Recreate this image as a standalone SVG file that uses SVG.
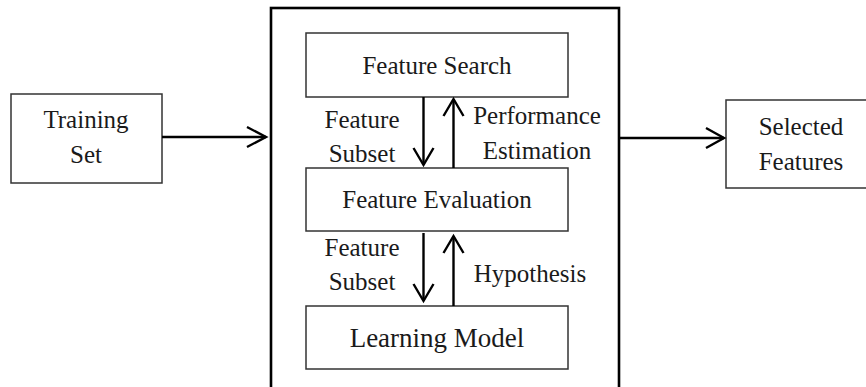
<svg xmlns="http://www.w3.org/2000/svg" width="866" height="387" viewBox="0 0 866 387">
<style>
  text { font-family: "Liberation Serif", "Times New Roman", serif; fill: #1a1a1a; text-anchor: middle; }
  .lbl { font-size: 25px; }
  .big { font-size: 27px; }
  .box { fill: #ffffff; stroke: #333333; stroke-width: 1.5; }
  .frame { fill: #ffffff; stroke: #000000; stroke-width: 2.6; }
  .conn { stroke: #000000; stroke-width: 2.4; fill: none; }
  .head { stroke: #000000; stroke-width: 2.4; fill: none; stroke-linecap: butt; stroke-linejoin: miter; }
</style>
<rect width="866" height="387" fill="#ffffff"/>
<g id="frame">
  <rect class="frame" x="271" y="8" width="348" height="400"/>
</g>
<g id="training-set">
  <rect class="box" x="11" y="94" width="151" height="89"/>
  <text class="lbl" x="86" y="128">Training</text>
  <text class="lbl" x="86" y="163">Set</text>
</g>
<g id="selected-features">
  <rect class="box" x="726" y="100" width="150" height="88"/>
  <text class="lbl" x="801" y="135">Selected</text>
  <text class="lbl" x="801" y="170">Features</text>
</g>
<g id="feature-search">
  <rect class="box" x="306" y="33" width="262" height="64"/>
  <text class="lbl" x="437" y="74">Feature Search</text>
</g>
<g id="feature-evaluation">
  <rect class="box" x="306" y="168" width="262" height="63"/>
  <text class="lbl" x="437" y="208">Feature Evaluation</text>
</g>
<g id="learning-model">
  <rect class="box" x="306" y="306" width="262" height="63"/>
  <text class="big" x="437" y="347">Learning Model</text>
</g>
<g id="connectors">
  <line class="conn" x1="162" y1="137" x2="266" y2="137"/>
  <polyline class="head" points="247,127 266,137 247,147"/>
  <line class="conn" x1="620" y1="138" x2="724" y2="138"/>
  <polyline class="head" points="706,128 724,138 706,148"/>
  <line class="conn" x1="423.5" y1="97" x2="423.5" y2="165"/>
  <polyline class="head" points="413.5,148 423.5,165 433.5,148"/>
  <line class="conn" x1="453.5" y1="168" x2="453.5" y2="99"/>
  <polyline class="head" points="443.5,116 453.5,99 463.5,116"/>
  <line class="conn" x1="423.5" y1="233" x2="423.5" y2="301"/>
  <polyline class="head" points="413.5,284 423.5,301 433.5,284"/>
  <line class="conn" x1="453.5" y1="306" x2="453.5" y2="236"/>
  <polyline class="head" points="443.5,253 453.5,236 463.5,253"/>
</g>
<g id="labels">
  <text class="lbl" x="362" y="128">Feature</text>
  <text class="lbl" x="362" y="162">Subset</text>
  <text class="lbl" x="537" y="124">Performance</text>
  <text class="lbl" x="537" y="159">Estimation</text>
  <text class="lbl" x="362" y="256">Feature</text>
  <text class="lbl" x="362" y="290">Subset</text>
  <text class="lbl" x="530" y="282">Hypothesis</text>
</g>
</svg>
